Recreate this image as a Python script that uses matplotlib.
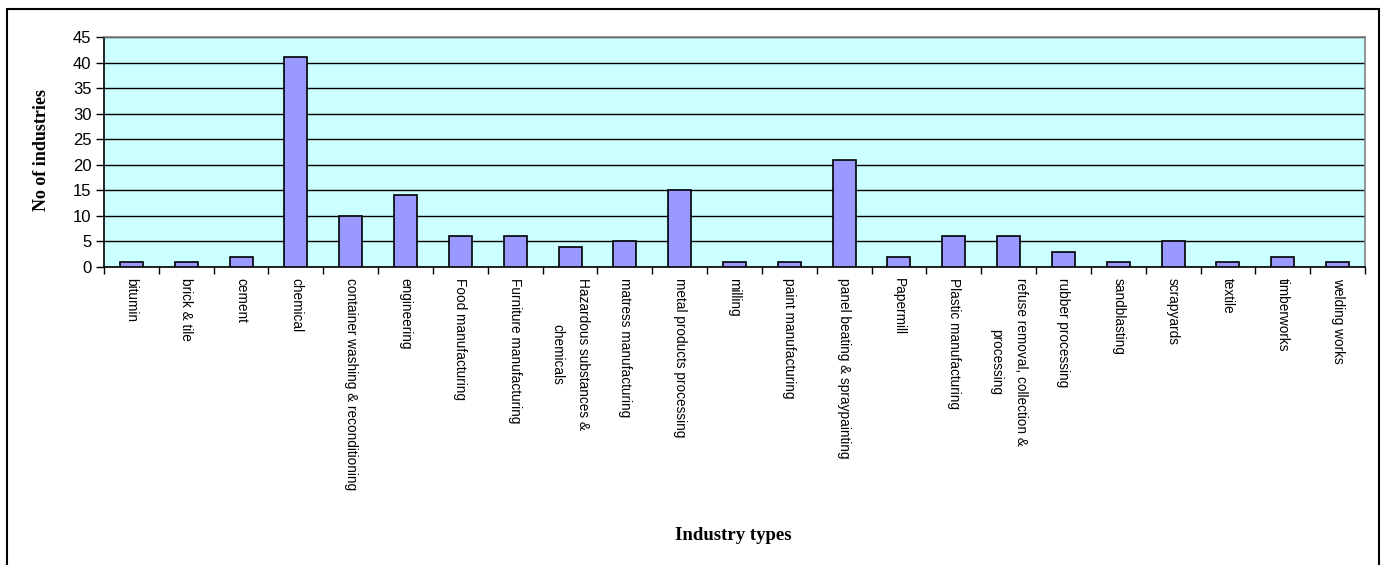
import matplotlib
matplotlib.use("Agg")
import matplotlib.pyplot as plt
from matplotlib.patches import Rectangle

# Number of industries per industry type
categories = [
    "bitumin", "brick & tile", "cement", "chemical",
    "container washing & reconditioning", "engineering",
    "Food manufacturing", "Furniture manufacturing",
    "Hazardous substances &\nchemicals", "matress manufacturing",
    "metal products processing", "milling", "paint manufacturing",
    "panel beating & spraypainting", "Papermill", "Plastic manufacturing",
    "refuse removal, collection &\nprocessing", "rubber processing",
    "sandblasting", "scrapyards", "textile", "timberworks", "welding works",
]
counts = [1, 1, 2, 41, 10, 14, 6, 6, 4, 5, 15, 1, 1, 21, 2, 6, 6, 3, 1, 5, 1, 2, 1]
y_ticks = list(range(0, 46, 5))

fig = plt.figure(figsize=(13.88, 5.65), dpi=100)
ax = fig.add_axes([104 / 1388, 1 - 267 / 565, 1261 / 1388, 230 / 565])

ax.set_facecolor("#CCFFFF")
x = list(range(len(categories)))
ax.bar(x, counts, width=0.42, color="#9999FF", edgecolor="black", linewidth=1.2, zorder=3)

ax.set_xlim(-0.5, len(categories) - 0.5)
ax.set_ylim(0, 45)
ax.set_yticks(y_ticks)
ax.yaxis.grid(True, color="black", linewidth=1.0, zorder=0)
ax.set_axisbelow(True)

# category labels sit at bar centres, tick marks on the boundaries
ax.set_xticks(x)
ax.set_xticklabels(categories, rotation=-90, ha="center", va="top",
                   fontfamily="Liberation Sans", fontsize=9.8, linespacing=2.0)
ax.tick_params(axis="x", which="major", length=0, pad=8)
ax.set_xticks([i - 0.5 for i in range(len(categories) + 1)], minor=True)
ax.tick_params(axis="x", which="minor", length=5, width=1, color="black", direction="out")
ax.tick_params(axis="y", length=6, width=1, pad=3, labelsize=12)
for lbl in ax.get_yticklabels():
    lbl.set_fontfamily("Liberation Sans")

for side in ["top", "right"]:
    ax.spines[side].set_color("#808080")
    ax.spines[side].set_linewidth(1.2)
for side in ["left", "bottom"]:
    ax.spines[side].set_color("black")
    ax.spines[side].set_linewidth(1.2)

fig.text(42 / 1388, 1 - 150 / 565, "No of industries", rotation=90, ha="center", va="center",
         fontfamily="Liberation Serif", fontweight="bold", fontsize=13)
fig.text(733 / 1388, 1 - 535 / 565, "Industry types", ha="center", va="center",
         fontfamily="Liberation Serif", fontweight="bold", fontsize=13.5)

# outer chart frame
fig.patches.append(Rectangle((7 / 1388, -0.05), 1372 / 1388, 1.05 - 9 / 565,
                             transform=fig.transFigure, fill=False,
                             edgecolor="black", linewidth=1.5))

fig.savefig("out.png", dpi=100, facecolor="white")
